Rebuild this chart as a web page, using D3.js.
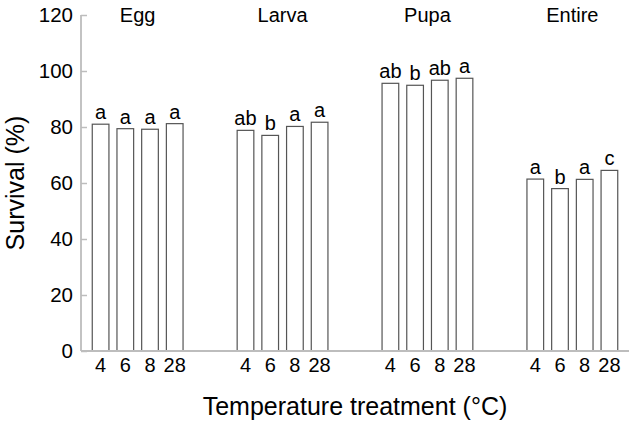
<!DOCTYPE html>
<html>
<head>
<meta charset="utf-8">
<script src="https://cdn.jsdelivr.net/npm/d3@7"></script>
<style>
  html, body { margin: 0; padding: 0; background: #fff; }
  svg { display: block; font-family: Arial, "Liberation Sans", sans-serif; }
</style>
</head>
<body>
<svg id="chart" width="636" height="427"></svg>
<script>
const stages = ["Egg", "Larva", "Pupa", "Entire"];
const temps = ["4", "6", "8", "28"];
const eggValues    = [81.0, 79.4, 79.2, 81.2];
const larvaValues  = [78.8, 77.0, 80.2, 81.7];
const pupaValues   = [95.6, 94.9, 96.7, 97.4];
const entireValues = [61.4, 58.0, 61.3, 64.5];
const eggLetters    = ["a", "a", "a", "a"];
const larvaLetters  = ["ab", "b", "a", "a"];
const pupaLetters   = ["ab", "b", "ab", "a"];
const entireLetters = ["a", "b", "a", "c"];
const yTicks = [0, 20, 40, 60, 80, 100, 120];

const seriesValues = [eggValues, larvaValues, pupaValues, entireValues];
const seriesLetters = [eggLetters, larvaLetters, pupaLetters, entireLetters];

const data = [];
stages.forEach((s, g) => temps.forEach((t, i) => {
  data.push({ stage: s, temp: t, value: seriesValues[g][i], letter: seriesLetters[g][i] });
}));

const svg = d3.select("#chart");
const x0 = 81, x1 = 629, yTop = 15, yBottom = 351;

const y = d3.scaleLinear().domain([0, 120]).range([yBottom, yTop]);
const xGroup = d3.scaleBand().domain(stages).range([x0, x1]).paddingInner(0.318).paddingOuter(0.05);
const xBar = d3.scaleBand().domain(temps).range([0, xGroup.bandwidth()]).paddingInner(0.325).paddingOuter(0.1625);

const axisColor = "#bdbdbd";

// Y axis
const yAxis = d3.axisLeft(y).tickValues(yTicks).tickSize(-6).tickPadding(8).tickFormat(d3.format("d"));
const gy = svg.append("g").attr("transform", `translate(${x0},0)`).call(yAxis);
gy.select(".domain").remove();
gy.selectAll(".tick line").attr("stroke", axisColor).attr("stroke-width", 1.5);
gy.selectAll(".tick text").attr("font-size", 20.5).attr("fill", "#000")
  .attr("font-family", "Arial, 'Liberation Sans', sans-serif");
svg.append("line").attr("x1", x0).attr("x2", x0).attr("y1", yTop).attr("y2", yBottom)
  .attr("stroke", axisColor).attr("stroke-width", 1.8);

// Bars
const groups = svg.append("g").selectAll("g.stage").data(stages).join("g")
  .attr("transform", d => `translate(${xGroup(d)},0)`);

groups.selectAll("rect").data(s => data.filter(d => d.stage === s)).join("rect")
  .attr("x", d => xBar(d.temp))
  .attr("width", xBar.bandwidth())
  .attr("y", d => y(d.value))
  .attr("height", d => y(0) - y(d.value))
  .attr("fill", "#fff")
  .attr("stroke", "#555")
  .attr("stroke-width", 1.2);

groups.selectAll("text.letter").data(s => data.filter(d => d.stage === s)).join("text")
  .attr("class", "letter")
  .attr("x", d => xBar(d.temp) + xBar.bandwidth() / 2)
  .attr("y", d => y(d.value) - 5)
  .attr("text-anchor", "middle")
  .attr("font-size", 20)
  .text(d => d.letter);

// X tick labels
groups.selectAll("text.tick").data(s => data.filter(d => d.stage === s)).join("text")
  .attr("class", "tick")
  .attr("x", d => xBar(d.temp) + xBar.bandwidth() / 2)
  .attr("y", 372)
  .attr("text-anchor", "middle")
  .attr("font-size", 20)
  .text(d => d.temp);

// Stage titles
groups.append("text")
  .attr("x", xGroup.bandwidth() / 2)
  .attr("y", 22)
  .attr("text-anchor", "middle")
  .attr("font-size", 20)
  .text(d => d);

// X axis line
svg.append("line").attr("x1", x0).attr("x2", x1).attr("y1", yBottom).attr("y2", yBottom)
  .attr("stroke", axisColor).attr("stroke-width", 1.8);

// Axis titles
svg.append("text").attr("x", (x0 + x1) / 2).attr("y", 415).attr("text-anchor", "middle")
  .attr("font-size", 25).text("Temperature treatment (°C)");
svg.append("text").attr("transform", `translate(24,${(yTop + yBottom) / 2}) rotate(-90)`)
  .attr("text-anchor", "middle").attr("font-size", 25).text("Survival (%)");
</script>
</body>
</html>
